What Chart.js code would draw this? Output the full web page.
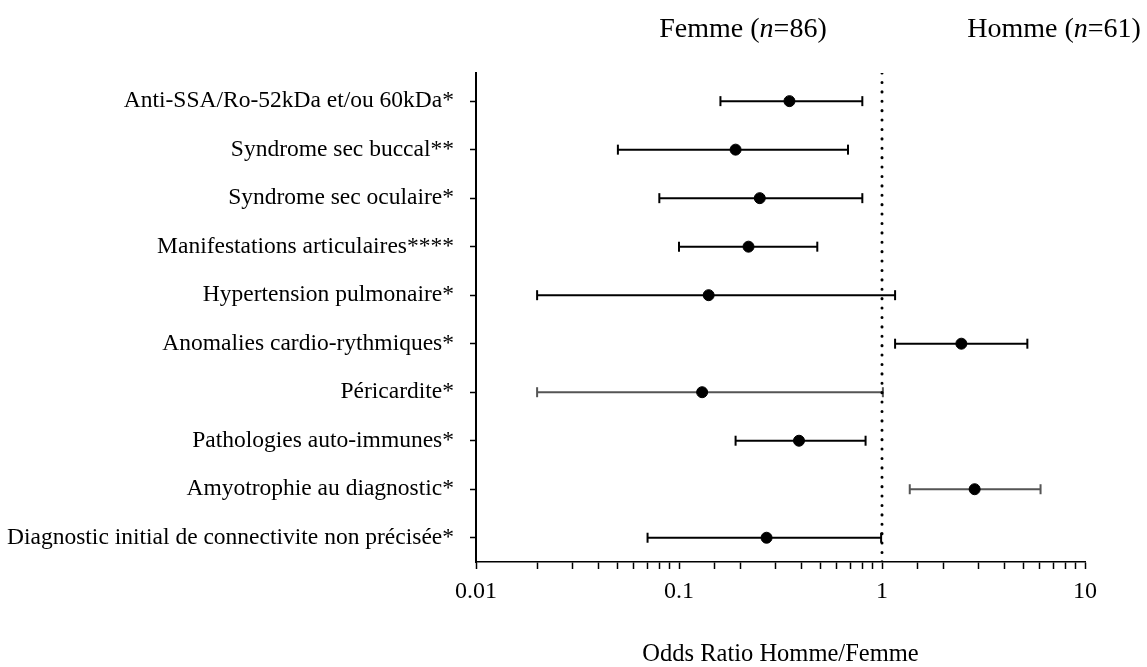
<!DOCTYPE html>
<html>
<head>
<meta charset="utf-8">
<script src="https://cdn.jsdelivr.net/npm/chart.js@4.4.1/dist/chart.umd.min.js"></script>
<style>
  body { margin: 0; background: #fff; }
  #wrap { width: 1147px; height: 667px; }
</style>
</head>
<body>
<div id="wrap"><canvas id="forest-chart" width="1147" height="667"></canvas></div>
<script>
// categories, top to bottom
const categories = [
    'Anti-SSA/Ro-52kDa et/ou 60kDa*',
    'Syndrome sec buccal**',
    'Syndrome sec oculaire*',
    'Manifestations articulaires****',
    'Hypertension pulmonaire*',
    'Anomalies cardio-rythmiques*',
    'Péricardite*',
    'Pathologies auto-immunes*',
    'Amyotrophie au diagnostic*',
    'Diagnostic initial de connectivite non précisée*'
];
// odds ratios and 95% CI
const oddsRatio = [0.35, 0.19, 0.25, 0.22, 0.14, 2.46, 0.13, 0.39, 2.86, 0.27];
const ciLower   = [0.16, 0.05, 0.08, 0.10, 0.02, 1.16, 0.02, 0.19, 1.37, 0.07];
const ciUpper   = [0.80, 0.68, 0.80, 0.48, 1.16, 5.20, 1.01, 0.83, 6.04, 0.99];
const xTickLabels = ['0.01', '0.1', '1', '10'];
const refValue = 1;

const serif = "'Liberation Serif', 'Times New Roman', serif";
const greyRows = [6, 8]; // these whiskers look a bit lighter in the original

// one dataset per whisker so they stay separate lines
const whiskerSets = categories.map(function(c, i) {
    const col = greyRows.includes(i) ? '#555' : '#000';
    return {
        type: 'scatter',
        data: [{x: ciLower[i], y: i}, {x: ciUpper[i], y: i}],
        showLine: true,
        borderColor: col,
        borderWidth: 2,
        pointStyle: 'line',
        rotation: 90,
        pointRadius: 5,
        pointBorderColor: col,
        pointBorderWidth: 2,
        order: 2
    };
});

// header text "Femme (n=86)" / "Homme (n=61)", n in italic
const headerPlugin = {
    id: 'header',
    afterDraw(chart) {
        const ctx = chart.ctx;
        function drawPart(parts, cx, cy) {
            ctx.save();
            ctx.fillStyle = '#000';
            ctx.textBaseline = 'middle';
            let total = 0;
            parts.forEach(function(p) {
                ctx.font = (p.italic ? 'italic ' : '') + '28px ' + serif;
                p.w = ctx.measureText(p.t).width;
                total += p.w;
            });
            let x = cx - total / 2;
            parts.forEach(function(p) {
                ctx.font = (p.italic ? 'italic ' : '') + '28px ' + serif;
                ctx.fillText(p.t, x, cy);
                x += p.w;
            });
            ctx.restore();
        }
        drawPart([{t: 'Femme ('}, {t: 'n', italic: true}, {t: '=86)'}], 743, 30);
        drawPart([{t: 'Homme ('}, {t: 'n', italic: true}, {t: '=61)'}], 1054, 30);
    }
};

const ctx = document.getElementById('forest-chart').getContext('2d');
window.forestChart = new Chart(ctx, {
    type: 'scatter',
    data: {
        datasets: [
            {
                data: oddsRatio.map(function(v, i) { return {x: v, y: i}; }),
                backgroundColor: '#000',
                borderColor: '#000',
                pointRadius: 5.5,
                pointHoverRadius: 5.5,
                order: 0
            },
            {
                // dotted reference line at OR = 1
                data: [{x: refValue, y: -0.58}, {x: refValue, y: 9.5}],
                showLine: true,
                borderColor: '#000',
                borderWidth: 3,
                borderDash: [0.1, 9.3],
                borderCapStyle: 'round',
                pointRadius: 0,
                order: 1
            }
        ].concat(whiskerSets)
    },
    options: {
        responsive: false,
        animation: false,
        layout: {
            padding: {top: 73, right: 62, left: 0, bottom: 0}
        },
        plugins: {
            legend: {display: false},
            tooltip: {enabled: false}
        },
        scales: {
            x: {
                type: 'logarithmic',
                min: 0.01,
                max: 10,
                afterFit(scale) { scale.height = 105; },
                border: {color: '#000', width: 1.5},
                grid: {
                    drawOnChartArea: false,
                    tickLength: 7,
                    tickColor: '#000',
                    tickWidth: 1.5
                },
                ticks: {
                    autoSkip: false,
                    maxRotation: 0,
                    padding: 8,
                    color: '#000',
                    font: {family: serif, size: 24},
                    callback: function(value) {
                        const l = Math.log10(value);
                        if (Math.abs(l - Math.round(l)) < 1e-6) {
                            return xTickLabels[Math.round(l) + 2];
                        }
                        return '';
                    }
                },
                title: {
                    display: true,
                    text: 'Odds Ratio Homme/Femme',
                    color: '#000',
                    font: {family: serif, size: 24.5},
                    padding: {top: 0, bottom: -2}
                }
            },
            y: {
                type: 'linear',
                reverse: true,
                min: -0.58,
                max: 9.5,
                afterFit(scale) { scale.width = 476; },
                afterBuildTicks(scale) {
                    scale.ticks = categories.map(function(c, i) { return {value: i}; });
                },
                border: {color: '#000', width: 2},
                grid: {
                    drawOnChartArea: false,
                    tickLength: 6,
                    tickColor: '#000',
                    tickWidth: 1.5
                },
                ticks: {
                    autoSkip: false,
                    padding: 16,
                    color: '#000',
                    font: {family: serif, size: 23.5},
                    callback: function(value) {
                        return categories[value];
                    }
                }
            }
        }
    },
    plugins: [headerPlugin]
});
</script>
</body>
</html>
